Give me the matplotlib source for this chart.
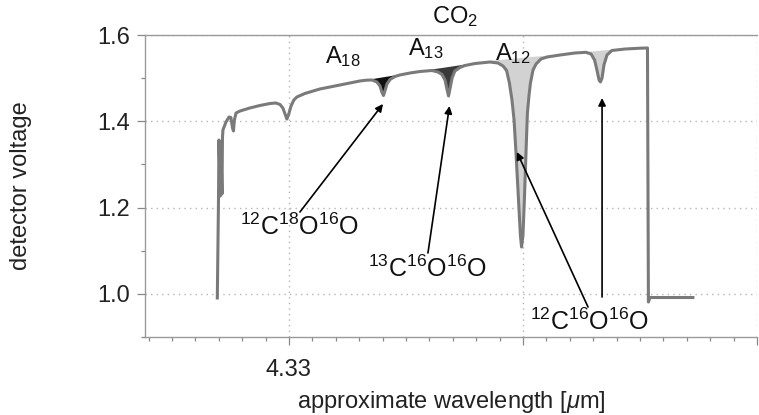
import numpy as np
import matplotlib
matplotlib.use("Agg")
import matplotlib.pyplot as plt
from matplotlib.ticker import FixedLocator, FixedFormatter, MultipleLocator

# ---------------- data ----------------
wavelength = [
    4.32694, 4.32699, 4.32701, 4.32707, 4.32709, 4.32714, 4.32716, 4.32718,
    4.32731, 4.32744, 4.32752, 4.32759, 4.32763, 4.32767, 4.32774, 4.32791,
    4.32833, 4.32876, 4.32919, 4.32944, 4.32962, 4.32974, 4.32985, 4.32991,
    4.32998, 4.33009, 4.33021, 4.33034, 4.33068, 4.33132, 4.33218, 4.33303,
    4.33329, 4.33355, 4.33376, 4.33389, 4.33397, 4.33404, 4.33410, 4.33419,
    4.33432, 4.33453, 4.33474, 4.33517, 4.33560, 4.33611, 4.33637, 4.33654,
    4.33667, 4.33675, 4.33682, 4.33688, 4.33697, 4.33709, 4.33731, 4.33752,
    4.33795, 4.33859, 4.33893, 4.33915, 4.33930, 4.33942, 4.33953, 4.33962,
    4.33970, 4.33981, 4.33989, 4.33994, 4.34000, 4.34006, 4.34013, 4.34019,
    4.34026, 4.34032, 4.34043, 4.34056, 4.34077, 4.34103, 4.34158, 4.34222,
    4.34269, 4.34291, 4.34306, 4.34316, 4.34325, 4.34331, 4.34338, 4.34346,
    4.34359, 4.34380, 4.34436, 4.34500, 4.34532, 4.34536, 4.34543, 4.34726,
]
voltage = [
    0.9904, 1.2175, 1.3566, 1.2268, 1.3520, 1.2315, 1.3613, 1.3798,
    1.3983, 1.4099, 1.4088, 1.3844, 1.3775, 1.4030, 1.4192, 1.4238,
    1.4308, 1.4366, 1.4412, 1.4424, 1.4389, 1.4308, 1.4146, 1.4053,
    1.4146, 1.4354, 1.4493, 1.4563, 1.4644, 1.4748, 1.4841, 1.4934,
    1.4952, 1.4957, 1.4911, 1.4818, 1.4679, 1.4598, 1.4702, 1.4864,
    1.4969, 1.5038, 1.5073, 1.5119, 1.5154, 1.5177, 1.5142, 1.5084,
    1.4957, 1.4748, 1.4586, 1.4748, 1.5003, 1.5166, 1.5247, 1.5293,
    1.5339, 1.5374, 1.5351, 1.5281, 1.5177, 1.4887, 1.4493, 1.4030,
    1.3288, 1.2175, 1.1364, 1.1086, 1.1364, 1.2175, 1.3288, 1.4192,
    1.4609, 1.4887, 1.5189, 1.5328, 1.5444, 1.5490, 1.5536, 1.5583,
    1.5599, 1.5560, 1.5420, 1.5189, 1.4957, 1.4911, 1.5003, 1.5305,
    1.5536, 1.5641, 1.5675, 1.5694, 1.5699, 0.9811, 0.9915, 0.9915,
]

# baselines (start/end) of the shaded absorption areas
a18_base_wl = [4.33303, 4.33474]
a18_base_v = [1.4945, 1.5096]
a13_base_wl = [4.33594, 4.33765]
a13_base_v = [1.5200, 1.5339]
a12_base_wl = [4.33850, 4.34526]
a12_base_v = [1.5409, 1.5745]

x_major = [4.33, 4.34, 4.35]
x_major_labels = ["4.33", "", ""]
y_major = [1.0, 1.2, 1.4, 1.6]
y_major_labels = ["1.0", "1.2", "1.4", "1.6"]
y_minor = [0.9, 1.1, 1.3, 1.5]

molecules = [r"$^{12}$C$^{18}$O$^{16}$O", r"$^{13}$C$^{16}$O$^{16}$O", r"$^{12}$C$^{16}$O$^{16}$O"]
area_labels = [r"A$_{18}$", r"A$_{13}$", r"A$_{12}$"]

# ---------------- style ----------------
plt.rcParams['font.family'] = ['Liberation Sans', 'DejaVu Sans']
plt.rcParams['mathtext.fontset'] = 'custom'
plt.rcParams['mathtext.rm'] = 'Liberation Sans'
plt.rcParams['mathtext.it'] = 'Liberation Sans:italic'
plt.rcParams['mathtext.bf'] = 'Liberation Sans:bold'

fig = plt.figure(figsize=(7.59, 4.15), dpi=100)
ax = fig.add_axes([145 / 759, 78 / 415, 612 / 759, 302 / 415])

wl = np.array(wavelength)
v = np.array(voltage)


def shade(bx, bv, color):
    m = (wl >= bx[0] - 1e-9) & (wl <= bx[1] + 1e-9)
    xs = wl[m]
    vs = v[m]
    bs = np.interp(xs, bx, bv)
    ax.fill_between(xs, vs, bs, where=vs <= bs, interpolate=True,
                    color=color, lw=0, zorder=2)


shade(a12_base_wl, a12_base_v, '#d2d2d2')
shade(a18_base_wl, a18_base_v, '#111111')
shade(a13_base_wl, a13_base_v, '#3a3a3a')

ax.plot(wl, v, color='#7a7a7a', lw=2.2, solid_joinstyle='round', zorder=3)

ax.set_xlim(4.32385, 4.35)
ax.set_ylim(0.9, 1.6)

ax.xaxis.set_major_locator(FixedLocator(x_major))
ax.xaxis.set_major_formatter(FixedFormatter(x_major_labels))
ax.xaxis.set_minor_locator(MultipleLocator(0.001))
ax.yaxis.set_major_locator(FixedLocator(y_major))
ax.yaxis.set_major_formatter(FixedFormatter(y_major_labels))
ax.yaxis.set_minor_locator(FixedLocator(y_minor))

ax.tick_params(which='major', direction='out', length=6, width=0.9, color='#888888',
               labelsize=17, labelcolor='#222222')
ax.tick_params(axis='x', which='major', pad=10)
ax.tick_params(axis='y', which='major', pad=5)
ax.tick_params(which='minor', direction='out', length=3, width=0.9, color='#888888')

ax.grid(True, which='major', linestyle=(0, (1, 3)), color='#b5b5b5', lw=1.0)
for s in ['left', 'bottom', 'top']:
    ax.spines[s].set_color('#9a9a9a')
    ax.spines[s].set_linewidth(1.0)
ax.spines['right'].set_visible(False)

ax.set_xlabel(r"approximate wavelength [$\mu$m]", fontsize=17, color='#222222')
ax.set_ylabel("detector voltage", fontsize=17, color='#222222')
ax.xaxis.set_label_coords(0.5, -0.172)
ax.yaxis.set_label_coords(-0.185, 0.5)

# texts
ax.text(4.33709, 1.6417, r"CO$_2$", fontsize=17, ha='center', va='center', color='#111111')
ax.text(4.33154, 1.5351, area_labels[0], fontsize=17, ha='left', va='baseline', color='#111111')
ax.text(4.33509, 1.5536, area_labels[1], fontsize=17, ha='left', va='baseline', color='#111111')
ax.text(4.33880, 1.5420, area_labels[2], fontsize=17, ha='left', va='baseline', color='#111111')

ax.text(4.33047, 1.1364, molecules[0], fontsize=18, ha='center', va='baseline', color='#111111', zorder=5)
ax.text(4.33594, 1.0391, molecules[1], fontsize=18, ha='center', va='baseline', color='#111111', zorder=5)
ax.text(4.34286, 0.9162, molecules[2], fontsize=18, ha='center', va='baseline', color='#111111', zorder=5)

arrow_props = dict(arrowstyle='-|>', color='black', lw=1.2, mutation_scale=11,
                   shrinkA=0, shrinkB=0)
arrows = [
    ((4.33402, 1.4401), (4.33047, 1.1897)),
    ((4.33686, 1.4354), (4.33594, 1.0947)),
    ((4.33974, 1.3288), (4.34278, 0.9695)),
    ((4.34338, 1.4540), (4.34338, 0.9927)),
]
for head, tail in arrows:
    ax.annotate('', xy=head, xytext=tail, arrowprops=arrow_props, zorder=4)

fig.savefig('out.png', dpi=100)
